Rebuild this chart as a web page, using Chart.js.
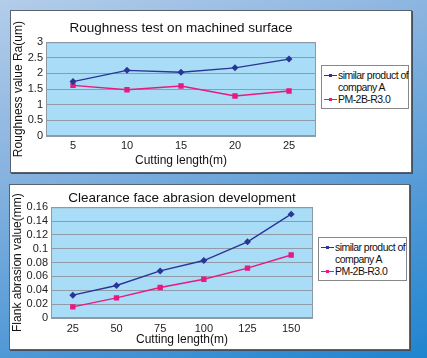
<!DOCTYPE html>
<html>
<head>
<meta charset="utf-8">
<script src="https://cdn.jsdelivr.net/npm/chart.js@4"></script>
<style>
  html, body { margin: 0; padding: 0; }
  body {
    width: 427px; height: 358px; overflow: hidden; position: relative;
    background: linear-gradient(160deg, #b3cdea 0%, #86b2de 35%, #4f98d6 70%, #1f84cf 100%);
    font-family: "Liberation Sans", Arial, sans-serif;
  }
  .panel {
    position: absolute; background: #fff;
    border: 1px solid #5a6270;
    box-shadow: 1px 1px 0 #44505e;
  }
  .legend {
    position: absolute; border: 1px solid #888; background: #fff;
    font-size: 10.5px; letter-spacing: -0.55px; color: #111; line-height: 12px; padding: 3px 1px 3px 1px;
    white-space: nowrap;
  }
  .legend .item { position: relative; padding-left: 15px; }
  .legend .key { position: absolute; left: 1px; top: 6px; width: 13px; height: 1px; }
  .legend .dot { position: absolute; left: 5px; top: -1px; width: 3px; height: 3px; }
</style>
</head>
<body>
<div class="panel" id="p1" style="left:10px;top:10px;width:400px;height:161px;">
  <canvas id="roughness-chart" width="400" height="161"></canvas>
  <div class="legend" id="legend1" style="left:310px;top:54px;width:84px;"></div>
</div>
<div class="panel" id="p2" style="left:9px;top:184px;width:399px;height:164px;">
  <canvas id="abrasion-chart" width="399" height="164"></canvas>
  <div class="legend" id="legend2" style="left:308px;top:52px;width:85px;"></div>
</div>
<script>
"use strict";

var seriesNames = ["similar product of company A", "PM-2B-R3.0"];
var legendLines = [["similar product of", "company A"], ["PM-2B-R3.0"]];
var seriesColors = ["#2a3596", "#e8197f"];

var roughnessLengths = ["5", "10", "15", "20", "25"];
var roughnessCompanyA = [1.74, 2.1, 2.04, 2.18, 2.46];
var roughnessPM = [1.62, 1.48, 1.6, 1.28, 1.44];

var abrasionLengths = ["25", "50", "75", "100", "125", "150"];
var abrasionCompanyA = [0.033, 0.047, 0.068, 0.083, 0.110, 0.150];
var abrasionPM = [0.016, 0.029, 0.044, 0.056, 0.072, 0.091];

var plotBackground = {
  id: "plotBackground",
  beforeDraw: function(chart) {
    var a = chart.chartArea;
    var ctx = chart.ctx;
    ctx.save();
    ctx.fillStyle = "#a9dcf6";
    ctx.fillRect(a.left, a.top, a.right - a.left, a.bottom - a.top);
    ctx.restore();
  },
  afterDraw: function(chart) {
    var a = chart.chartArea;
    var ctx = chart.ctx;
    ctx.save();
    ctx.strokeStyle = "#8c9aa6";
    ctx.lineWidth = 1;
    ctx.strokeRect(a.left + 0.5, a.top + 0.5, a.right - a.left - 1, a.bottom - a.top - 1);
    ctx.restore();
  }
};

function renderLegend(id) {
  var box = document.getElementById(id);
  for (var i = 0; i < seriesNames.length; i++) {
    var item = document.createElement("div");
    item.className = "item";
    item.innerHTML = '<span class="key" style="background:' + seriesColors[i] +
      '"><span class="dot" style="background:' + seriesColors[i] + '"></span></span>' +
      legendLines[i].join("<br>");
    box.appendChild(item);
  }
}

function renderLineChart(elemId, opts) {
  var ctx = document.getElementById(elemId).getContext("2d");
  new Chart(ctx, {
    type: "line",
    data: {
      labels: opts.labels,
      datasets: [
        {
          label: seriesNames[0],
          data: opts.seriesA,
          borderColor: seriesColors[0],
          backgroundColor: seriesColors[0],
          borderWidth: 1.4,
          pointStyle: "rectRot",
          pointRadius: 2.5,
          fill: false
        },
        {
          label: seriesNames[1],
          data: opts.seriesB,
          borderColor: seriesColors[1],
          backgroundColor: seriesColors[1],
          borderWidth: 1.4,
          pointStyle: "rect",
          pointRadius: 2.8,
          fill: false
        }
      ]
    },
    options: {
      responsive: false,
      animation: false,
      layout: { padding: { left: 0, right: opts.padRight, top: 0, bottom: opts.padBottom } },
      plugins: {
        legend: { display: false },
        tooltip: { enabled: false },
        title: {
          display: true,
          text: opts.title,
          fullSize: false,
          color: "#111",
          font: { family: "Liberation Sans", size: 13.5, weight: "normal" },
          padding: { top: opts.titleTop, bottom: opts.titleBottom }
        }
      },
      scales: {
        x: {
          offset: true,
          grid: { display: false, drawTicks: false },
          border: { display: false },
          ticks: { autoSkip: false, color: "#222", font: { family: "Liberation Sans", size: 11 }, padding: opts.xTickPad, maxRotation: 0 },
          title: {
            display: true, text: "Cutting length(m)", color: "#111",
            font: { family: "Liberation Sans", size: 12 }, padding: { top: 0, bottom: 0 }
          },
          afterFit: function(scale) { scale.height = opts.xHeight; }
        },
        y: {
          min: opts.yMin, max: opts.yMax,
          grid: { color: "#8f9ba6", drawTicks: false },
          border: { display: false },
          ticks: {
            autoSkip: false, stepSize: opts.step, color: "#222", padding: 3,
            font: { family: "Liberation Sans", size: 11 },
            callback: function(v) { return String(Math.round(v * 1000) / 1000); }
          },
          title: {
            display: true, text: opts.yTitle, color: "#111",
            font: { family: "Liberation Sans", size: 12 }, padding: { top: 0, bottom: 0 }
          },
          afterFit: function(scale) { scale.width = opts.yWidth; }
        }
      }
    },
    plugins: [plotBackground]
  });
}

renderLineChart("roughness-chart", {
  labels: roughnessLengths,
  seriesA: roughnessCompanyA,
  seriesB: roughnessPM,
  title: "Roughness test on machined surface",
  yTitle: "Roughness value Ra(um)",
  yMin: 0, yMax: 3, step: 0.5,
  yWidth: 35, xHeight: 32, padRight: 95, padBottom: 4, xTickPad: 3,
  titleTop: 9, titleBottom: 6
});

renderLineChart("abrasion-chart", {
  labels: abrasionLengths,
  seriesA: abrasionCompanyA,
  seriesB: abrasionPM,
  title: "Clearance face abrasion development",
  yTitle: "Flank abrasion value(mm)",
  yMin: 0, yMax: 0.16, step: 0.02,
  yWidth: 41, xHeight: 29, padRight: 96, padBottom: 2, xTickPad: 4,
  titleTop: 5, titleBottom: 1
});

renderLegend("legend1");
renderLegend("legend2");
</script>
</body>
</html>
